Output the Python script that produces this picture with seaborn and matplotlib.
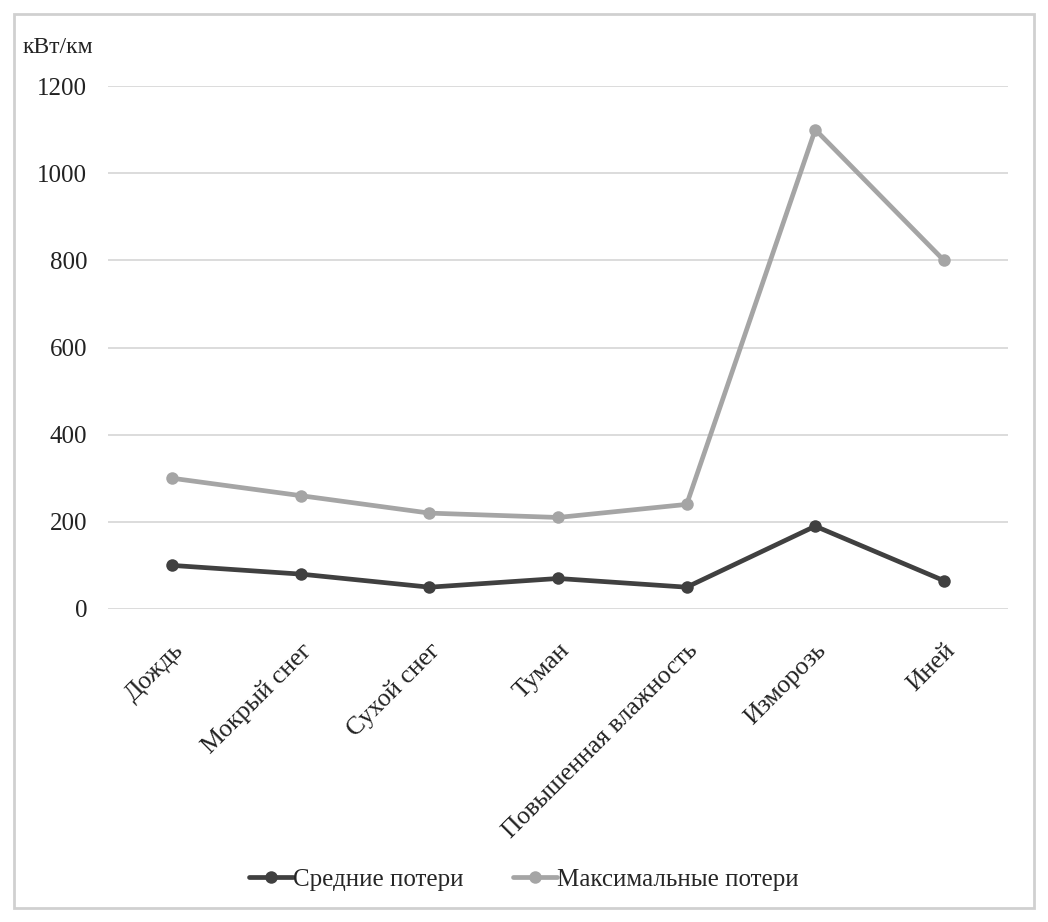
import pandas as pd
import matplotlib.pyplot as plt
import seaborn as sns
from matplotlib.patches import Rectangle

# Data
categories = ['Дождь', 'Мокрый снег', 'Сухой снег', 'Туман',
              'Повышенная влажность', 'Изморозь', 'Иней']
avg_losses = [100, 80, 50, 70, 50, 190, 65]
max_losses = [300, 260, 220, 210, 240, 1100, 800]
series_names = ['Средние потери', 'Максимальные потери']
y_ticks = [0, 200, 400, 600, 800, 1000, 1200]

df = pd.DataFrame({
    'cat': categories * 2,
    'x': list(range(len(categories))) * 2,
    'val': avg_losses + max_losses,
    'series': [series_names[0]] * len(categories) + [series_names[1]] * len(categories),
})

sns.set_style('white')
plt.rcParams['font.family'] = ['Liberation Serif', 'DejaVu Serif']

fig = plt.figure(figsize=(10.48, 9.22), dpi=100)
ax = fig.add_axes([0.103, 0.3395, 0.859, 0.5672])

sns.lineplot(data=df, x='x', y='val', hue='series',
             palette={series_names[0]: '#404040', series_names[1]: '#a5a5a5'},
             marker='o', markersize=9, markeredgewidth=0, linewidth=3.4,
             ax=ax, legend=False)

ax.set_xlim(-0.5, len(categories) - 0.5)
ax.set_ylim(0, 1200)
ax.set_yticks(y_ticks)
ax.set_yticklabels([str(t) for t in y_ticks], fontsize=18, color='#222222')
ax.set_xticks(range(len(categories)))
ax.set_xticklabels(categories, rotation=45, ha='right', rotation_mode='anchor',
                   fontsize=18.5, color='#222222')
ax.tick_params(axis='x', length=0, pad=22)
ax.tick_params(axis='y', length=0, pad=15)
ax.set_xlabel('')
ax.set_ylabel('')
ax.grid(axis='y', color='#d9d9d9', linewidth=1.3)
ax.set_axisbelow(True)
for s in ax.spines.values():
    s.set_visible(False)
for ln in ax.lines:
    ln.set_clip_on(False)

fig.text(0.022, 0.949, 'кВт/км', fontsize=17, color='#222222', va='center')

# legend
handles = [plt.Line2D([], [], color=c, marker='o', markersize=9, linewidth=3.4,
                      markeredgewidth=0)
           for c in ['#404040', '#a5a5a5']]
fig.legend(handles, series_names, loc='center', bbox_to_anchor=(0.5, 0.046),
           ncol=2, frameon=False, fontsize=18, handlelength=1.75,
           handletextpad=0.0, columnspacing=2.0)

# outer border
fig.patches.append(Rectangle((0.0134, 0.0152), 0.973, 0.97, transform=fig.transFigure,
                             fill=False, edgecolor='#d0d0d0', linewidth=2))

plt.savefig('out.png', dpi=100)
